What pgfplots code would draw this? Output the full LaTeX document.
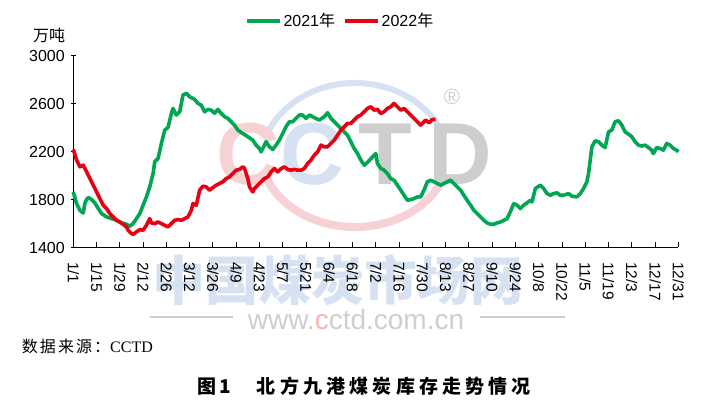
\documentclass[border=0pt]{standalone}
\usepackage{fontspec}
\setmainfont{Liberation Sans}
\newfontfamily\cjk{Noto Sans CJK SC}
\newfontfamily\cjkwide[LetterSpace=13]{Noto Sans CJK SC}
\newfontfamily\cjktitle[LetterSpace=22]{Noto Sans CJK SC}
\newfontfamily\serifsrc{Liberation Serif}
\usepackage{pgfplots}
\pgfplotsset{compat=1.18}
\definecolor{g21}{RGB}{0,166,81}
\definecolor{r22}{RGB}{230,0,18}
\definecolor{wmblue}{RGB}{214,226,242}
\definecolor{wmpink}{RGB}{246,210,212}
\definecolor{wmgray}{RGB}{206,206,206}
\begin{document}
\begin{tikzpicture}
\path[use as bounding box] (0pt,0pt) rectangle (712pt,411pt);
% watermark (behind the chart)
\node[anchor=center, text=wmblue, font=\fontsize{53pt}{56pt}\cjk\bfseries] at (338pt,131pt) {中国煤炭市场网};
\node[anchor=center, text=wmgray, font=\fontsize{28pt}{30pt}\selectfont] at (356pt,92pt) {www.{\color{wmpink!70!red!70}c}ctd.com.cn};
\draw[wmgray, line width=1.2pt] (150pt,94pt) -- (233pt,94pt);
\draw[wmgray, line width=1.2pt] (480pt,94pt) -- (565pt,94pt);
\draw[wmblue, line width=6pt] (355pt,246pt) ++(20:95pt and 82pt) arc[start angle=20, end angle=160, x radius=95pt, y radius=82pt];
\draw[wmpink, line width=8pt] (355pt,261pt) ++(200:95pt and 77pt) arc[start angle=200, end angle=340, x radius=95pt, y radius=77pt];
\node[anchor=base west, inner sep=0pt, text=wmpink, font=\fontsize{88pt}{90pt}\selectfont\bfseries] at (216pt,226pt) {C};
\node[anchor=base west, inner sep=0pt, text=wmblue, font=\fontsize{88pt}{90pt}\selectfont\bfseries] at (280pt,226pt) {C};
\node[anchor=base west, inner sep=0pt, text=wmgray, font=\fontsize{88pt}{90pt}\selectfont\bfseries] at (358pt,226pt) {T};
\node[anchor=base west, inner sep=0pt, text=wmgray, font=\fontsize{88pt}{90pt}\selectfont\bfseries] at (428pt,226pt) {D};
\node[text=wmgray, font=\fontsize{22pt}{24pt}\selectfont] at (452pt,314pt) {®};

\begin{axis}[
  scale only axis,
  width=605pt, height=191.8pt,
  at={(73.3pt,163.5pt)}, anchor=south west,
  xmin=0, xmax=364, ymin=1400, ymax=3000,
  axis lines*=left,
  axis line style={black, line width=0.9pt},
  tick align=inside,
  major tick length=5pt,
  tick style={black, line width=0.9pt},
  ytick={1400,1800,2200,2600,3000},
  ytick style={xshift=-2.5pt},
  xtick={0,14,...,364},
  xticklabels={1/1,1/15,1/29,2/12,2/26,3/12,3/26,4/9,4/23,5/7,5/21,6/4,6/18,7/2,7/16,7/30,8/13,8/27,9/10,9/24,10/8,10/22,11/5,11/19,12/3,12/17,12/31},
  xticklabel style={yshift=-11pt, rotate=-90, anchor=west, font=\fontsize{15.5pt}{18pt}\selectfont},
  yticklabel style={xshift=-5pt, font=\fontsize{16pt}{19pt}\selectfont},
  /pgf/number format/1000 sep={},
  /pgf/number format/assume math mode=true,
  legend style={at={(0.441,1.181)}, anchor=center, draw=none, fill=none,
    font=\fontsize{16pt}{19pt}\selectfont, legend columns=2,
    /tikz/every even column/.append style={column sep=6pt}},
  legend image code/.code={\draw[#1] (0pt,0pt) -- (33pt,0pt);},
  clip=false,
]
\addplot[g21, line width=3.6pt, line join=round] coordinates {
(0,1864)(2,1766)(4,1710)(5,1697)(6,1688)(7,1770)(8,1800)(9,1817)(11,1800)(13,1772)(15,1725)(17,1683)(20,1655)(23,1641)(26,1627)(29,1605)(32,1594)(34,1577)(36,1599)(38,1641)(40,1683)(42,1753)(44,1822)(46,1906)(48,2017)(49,2115)(51,2143)(53,2268)(55,2379)(57,2401)(59,2518)(60,2560)(62,2505)(64,2532)(66,2672)(68,2686)(70,2658)(73,2635)(75,2602)(77,2588)(79,2532)(81,2552)(83,2546)(85,2520)(87,2552)(89,2518)(91,2491)(93,2477)(95,2449)(97,2421)(99,2379)(102,2351)(105,2324)(108,2296)(110,2254)(112,2226)(113,2198)(115,2254)(116,2282)(118,2240)(120,2218)(122,2254)(124,2296)(126,2351)(128,2407)(130,2449)(132,2449)(134,2477)(136,2505)(138,2505)(140,2477)(142,2505)(144,2491)(146,2477)(148,2463)(151,2491)(153,2524)(155,2477)(157,2449)(159,2421)(161,2393)(163,2365)(165,2337)(167,2282)(169,2226)(171,2184)(173,2129)(175,2087)(177,2110)(179,2140)(181,2170)(182,2184)(183,2101)(185,2059)(187,2045)(189,2017)(191,1975)(193,1961)(195,1920)(197,1878)(199,1836)(201,1794)(203,1800)(205,1808)(207,1822)(209,1822)(211,1878)(213,1948)(215,1961)(217,1948)(219,1934)(221,1920)(223,1934)(225,1948)(227,1961)(229,1934)(231,1906)(233,1878)(235,1836)(237,1794)(239,1753)(241,1711)(243,1683)(245,1655)(247,1627)(249,1605)(251,1594)(253,1594)(255,1605)(257,1613)(259,1627)(261,1641)(263,1700)(265,1766)(267,1753)(269,1725)(271,1753)(273,1772)(275,1794)(276,1780)(278,1892)(281,1920)(283,1892)(285,1850)(287,1836)(289,1850)(291,1856)(293,1836)(295,1836)(298,1850)(300,1828)(303,1822)(305,1850)(307,1892)(309,1948)(310,2017)(311,2129)(312,2240)(314,2290)(316,2282)(318,2254)(320,2234)(322,2365)(324,2379)(326,2449)(328,2457)(330,2421)(332,2365)(334,2346)(336,2324)(338,2282)(340,2254)(342,2246)(344,2254)(346,2234)(348,2212)(349,2184)(351,2234)(353,2226)(355,2212)(357,2268)(359,2254)(361,2226)(363,2212)(364,2198)
};
\addlegendentry{2021{\cjk 年}}
\addplot[r22, line width=3.6pt, line join=round] coordinates {
(0,2218)(2,2129)(4,2073)(6,2087)(8,2031)(10,1975)(12,1920)(14,1864)(16,1808)(18,1753)(20,1725)(22,1683)(24,1655)(26,1627)(28,1613)(30,1594)(32,1572)(33,1544)(35,1516)(36,1510)(38,1530)(40,1549)(42,1544)(44,1585)(46,1641)(47,1605)(49,1599)(51,1613)(53,1599)(55,1585)(57,1572)(59,1599)(61,1627)(63,1633)(65,1627)(67,1641)(69,1655)(71,1711)(72,1766)(74,1753)(76,1878)(78,1911)(80,1906)(82,1878)(84,1900)(86,1920)(88,1934)(90,1948)(92,1975)(94,1989)(96,2017)(98,2045)(100,2051)(102,2073)(103,2059)(105,1975)(106,1906)(108,1864)(109,1892)(111,1920)(113,1948)(115,1975)(117,1989)(119,2031)(121,2059)(123,2031)(125,2059)(127,2073)(129,2051)(131,2045)(133,2051)(135,2045)(137,2045)(139,2059)(141,2101)(143,2129)(145,2170)(147,2198)(149,2254)(151,2240)(153,2240)(155,2268)(157,2296)(159,2337)(161,2379)(163,2407)(165,2435)(167,2435)(169,2463)(171,2491)(173,2505)(175,2532)(177,2560)(179,2574)(181,2546)(183,2552)(185,2518)(187,2532)(189,2560)(191,2574)(193,2602)(195,2574)(197,2546)(199,2560)(201,2532)(203,2505)(205,2477)(207,2449)(209,2421)(211,2449)(212,2463)(214,2440)(216,2468)(218,2468)
};
\addlegendentry{2022{\cjk 年}}
\end{axis}
% unit, source and caption
\node[anchor=center, font=\fontsize{16pt}{19pt}\cjk] at (49pt,376pt) {万吨};
\node[anchor=west, inner sep=0pt, font=\fontsize{16pt}{19pt}\cjkwide] at (21.7pt,64.3pt) {数据来源：{\serifsrc CCTD}};
\node[anchor=west, inner sep=0pt, font=\fontsize{19pt}{22pt}\cjktitle\bfseries] at (197pt,25pt) {图\,1\hspace{26pt}北方九港煤炭库存走势情况};
\end{tikzpicture}
\end{document}
